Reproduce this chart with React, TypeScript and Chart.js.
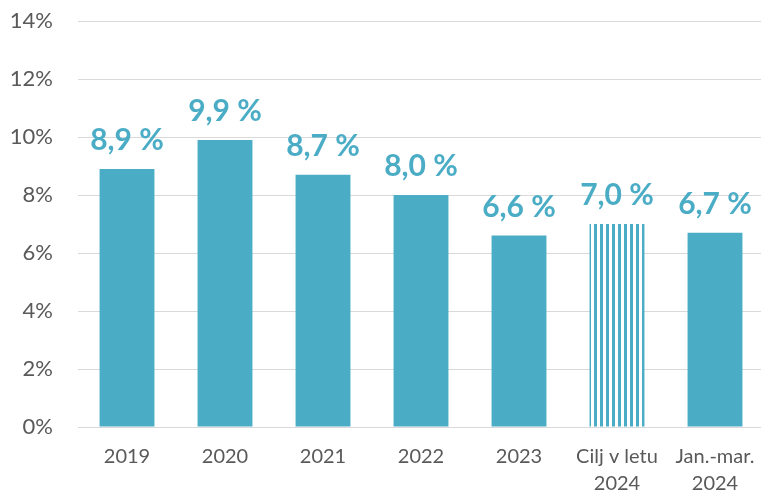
import React, { useEffect, useRef } from "react";
import { Chart, registerables } from "chart.js";

Chart.register(...registerables);

const categories: (string | string[])[] = ["2019", "2020", "2021", "2022", "2023", ["Cilj v letu", "2024"], ["Jan.-mar.", "2024"]];
const values = [8.9, 9.9, 8.7, 8.0, 6.6, 7.0, 6.7];
const stripedIndex = 5;
const yTicks = [0, 2, 4, 6, 8, 10, 12, 14];

const BLUE = "#4BACC6";
const FONT = "Lato, 'Open Sans', sans-serif";

function makeStripes(): CanvasPattern | string {
  const c = document.createElement("canvas");
  c.width = 6;
  c.height = 4;
  const ctx = c.getContext("2d");
  if (!ctx) return BLUE;
  ctx.fillStyle = "#ffffff";
  ctx.fillRect(0, 0, 6, 4);
  ctx.fillStyle = BLUE;
  ctx.fillRect(0, 0, 3, 4);
  return ctx.createPattern(c, "repeat") || BLUE;
}

const labelPlugin = {
  id: "valueLabels",
  afterDatasetsDraw(chart: any) {
    const ctx = chart.ctx;
    const meta = chart.getDatasetMeta(0);
    ctx.save();
    ctx.fillStyle = BLUE;
    ctx.font = `bold 30px ${FONT}`;
    ctx.textAlign = "center";
    ctx.textBaseline = "alphabetic";
    meta.data.forEach((bar: any, i: number) => {
      const txt = values[i].toFixed(1).replace(".", ",") + " %";
      ctx.fillText(txt, bar.x, bar.y - 19);
    });
    ctx.restore();
  },
};

export default function App() {
  const ref = useRef<HTMLCanvasElement>(null);
  useEffect(() => {
    if (!ref.current) return;
    const stripes = makeStripes();
    const chart = new Chart(ref.current, {
      type: "bar",
      data: {
        labels: categories as any,
        datasets: [
          {
            data: values,
            backgroundColor: values.map((_, i) => (i === stripedIndex ? stripes : BLUE)) as any,
            barPercentage: 0.56,
            categoryPercentage: 1,
          },
        ],
      },
      options: {
        animation: false,
        responsive: true,
        maintainAspectRatio: false,
        layout: { padding: { top: 21, right: 0, left: 0, bottom: 0 } },
        plugins: { legend: { display: false }, tooltip: { enabled: false } },
        scales: {
          x: {
            grid: { display: false, drawTicks: false },
            border: { display: true, color: "#d9d9d9", width: 1 },
            ticks: { color: "#595959", font: { family: FONT, size: 20, lineHeight: 1.35 }, padding: 16, maxRotation: 0, autoSkip: false },
            afterFit: (s: any) => {
              s.height = 65;
              s.paddingLeft = 0;
              s.paddingRight = 0;
            },
          },
          y: {
            min: 0,
            max: 14,
            afterBuildTicks: (s: any) => {
              s.ticks = yTicks.map((v) => ({ value: v }));
            },
            afterFit: (s: any) => {
              s.width = 78;
              s.paddingTop = 0;
              s.paddingBottom = 0;
            },
            grid: { color: "#d9d9d9", lineWidth: 1, drawTicks: false },
            border: { display: false },
            ticks: {
              color: "#595959",
              font: { family: FONT, size: 22 },
              padding: 25,
              callback: (v: any) => `${v}%`,
            },
          },
        },
      },
      plugins: [labelPlugin],
    });
    return () => chart.destroy();
  }, []);
  return (
    <div style={{ position: "fixed", left: 0, top: 0, width: 761, height: 492, overflow: "hidden" }}>
      <div style={{ position: "absolute", left: 0, top: 0, width: 764, height: 492 }}>
        <canvas ref={ref} />
      </div>
    </div>
  );
}
